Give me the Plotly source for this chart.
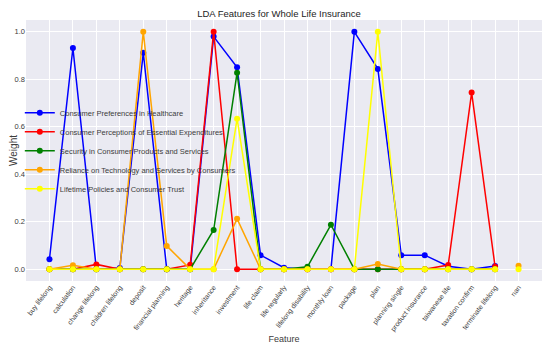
import plotly.graph_objects as go

features = ["buy lifelong", "calculation", "change lifelong", "children lifelong", "deposit",
            "financial planning", "heritage", "inheritance", "investment", "life claim",
            "life regularly", "lifelong disability", "monthly loan", "package", "plan",
            "planning single", "product insurance", "taiwanese life", "taxation confirm",
            "terminate lifelong"]
extra_feature = ["nan"]

series_names = ["Consumer Preferences in Healthcare",
                "Consumer Perceptions of Essential Expenditures",
                "Security in Consumer Products and Services",
                "Reliance on Technology and Services by Consumers",
                "Lifetime Policies and Consumer Trust"]
colors = ["blue", "red", "green", "orange", "yellow"]

healthcare = [0.042, 0.932, 0.0, 0.005, 0.912, 0.0, 0.0, 0.98, 0.851, 0.059,
              0.006, 0.0, 0.0, 1.0, 0.844, 0.059, 0.059, 0.012, 0.0, 0.013]
expenditures = [0.0, 0.0, 0.02, 0.0, 0.0, 0.0, 0.018, 1.0, 0.0, 0.0,
                0.0, 0.0, 0.0, 0.0, 0.0, 0.0, 0.0, 0.017, 0.744, 0.01]
security = [0.0, 0.0, 0.0, 0.0, 0.0, 0.0, 0.0, 0.165, 0.828, 0.0,
            0.0, 0.01, 0.187, 0.0, 0.0, 0.0, 0.0, 0.0, 0.0, 0.0]
technology = [0.0, 0.016, 0.0, 0.0, 1.0, 0.098, 0.0, 0.0, 0.212, 0.0,
              0.0, 0.0, 0.0, 0.0, 0.022, 0.0, 0.0, 0.0, 0.0, 0.0]
lifetime = [0.0, 0.0, 0.0, 0.0, 0.0, 0.0, 0.0, 0.0, 0.634, 0.0,
            0.0, 0.0, 0.0, 0.0, 1.0, 0.0, 0.0, 0.0, 0.0, 0.0]
nan_values = [None, None, None, 0.014, 0.0]

all_series = [healthcare, expenditures, security, technology, lifetime]

FONT = "Liberation Sans, Arial, sans-serif"

fig = go.Figure()
for name, color, vals in zip(series_names, colors, all_series):
    fig.add_trace(go.Scatter(x=features, y=vals, mode="lines+markers", name=name,
                             legendgroup=name,
                             line=dict(color=color, width=1.5),
                             marker=dict(color=color, size=6)))
for name, color, nv in zip(series_names, colors, nan_values):
    if nv is not None:
        fig.add_trace(go.Scatter(x=extra_feature, y=[nv], mode="markers", name=name,
                                 legendgroup=name, showlegend=False,
                                 marker=dict(color=color, size=6)))

# page body has an 8px default margin, so the figure is sized to fit the 550x351 window
fig.update_layout(
    template="seaborn",
    width=542, height=343,
    margin=dict(l=18, r=8, t=12, b=70),
    font=dict(family=FONT, size=8, color="rgb(60,60,60)"),
    title=dict(text="LDA Features for Whole Life Insurance", x=0.5, xanchor="center",
               y=0.993, yanchor="top", pad=dict(t=0, b=0),
               font=dict(size=9.5, family=FONT, color="rgb(36,36,36)")),
    legend=dict(x=-0.012, xanchor="left", y=0.70, yanchor="top", bgcolor="rgba(0,0,0,0)",
                itemwidth=30,
                font=dict(size=7.5, family=FONT, color="rgb(60,60,60)"), tracegroupgap=0),
    xaxis=dict(title=dict(text="Feature", font=dict(size=9), standoff=3),
               categoryorder="array", categoryarray=features + extra_feature,
               range=[-1, 21], tickangle=-53, automargin=True,
               tickfont=dict(size=7), gridcolor="white", showline=False, zeroline=False),
    yaxis=dict(title=dict(text="Weight", font=dict(size=10)),
               range=[-0.05, 1.05], dtick=0.2, tickformat=".1f", automargin=False,
               tickfont=dict(size=7.5), gridcolor="white", zeroline=False),
)

fig.write_html("out.html")
